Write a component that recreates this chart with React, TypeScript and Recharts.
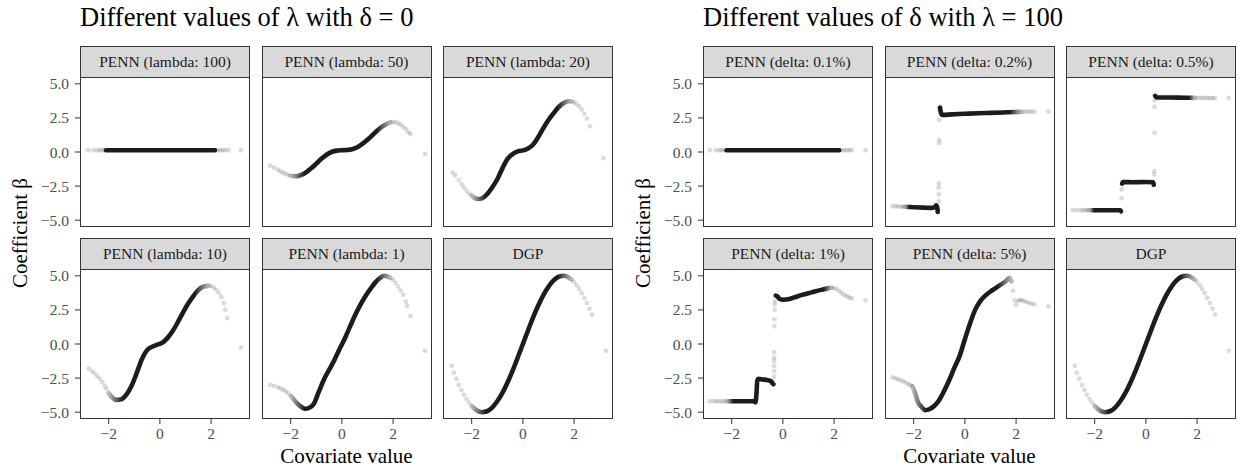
import { ComposedChart, Line, Scatter, XAxis, YAxis } from "recharts"

type Pt = [number, number]

// ---- left group: different lambda, delta = 0 ----
const lam100Line: Pt[] = [[-2.1, 0.13], [-1, 0.13], [0, 0.13], [1, 0.13], [2.15, 0.13]]
const lam100Dots: Pt[] = [[-2.8, 0.13], [-2.6, 0.13], [-2.45, 0.13], [-2.35, 0.13], [-2.25, 0.13], [-2.17, 0.13], [2.25, 0.13], [2.35, 0.13], [2.45, 0.13], [2.55, 0.13], [2.68, 0.13], [3.17, 0.13]]

const lam50Line: Pt[] = [[-2.0, -1.74], [-1.8, -1.78], [-1.6, -1.7], [-1.4, -1.5], [-1.2, -1.2], [-1.0, -0.85], [-0.8, -0.5], [-0.6, -0.2], [-0.4, 0.0], [-0.2, 0.1], [0, 0.13], [0.2, 0.15], [0.4, 0.2], [0.6, 0.35], [0.8, 0.6], [1.0, 0.9], [1.2, 1.25], [1.4, 1.6], [1.6, 1.9], [1.8, 2.1], [1.9, 2.17]]
const lam50Dots: Pt[] = [[-2.8, -1.0], [-2.65, -1.15], [-2.5, -1.3], [-2.4, -1.42], [-2.3, -1.52], [-2.2, -1.6], [-2.1, -1.68], [2.0, 2.2], [2.1, 2.18], [2.2, 2.1], [2.3, 2.0], [2.4, 1.85], [2.5, 1.68], [2.6, 1.45], [2.68, 1.32], [3.25, -0.15]]

const lam20Line: Pt[] = [[-2.0, -3.2], [-1.9, -3.35], [-1.75, -3.45], [-1.6, -3.4], [-1.4, -3.1], [-1.2, -2.6], [-1.0, -2.0], [-0.8, -1.2], [-0.6, -0.5], [-0.4, -0.15], [-0.2, 0.05], [0, 0.12], [0.2, 0.25], [0.4, 0.55], [0.6, 1.1], [0.8, 1.75], [1.0, 2.35], [1.2, 2.85], [1.4, 3.3], [1.6, 3.6], [1.8, 3.72], [1.9, 3.7]]
const lam20Dots: Pt[] = [[-2.75, -1.5], [-2.65, -1.7], [-2.5, -2.05], [-2.4, -2.35], [-2.3, -2.6], [-2.2, -2.85], [-2.1, -3.05], [2.0, 3.65], [2.1, 3.52], [2.2, 3.35], [2.3, 3.1], [2.4, 2.8], [2.5, 2.45], [2.62, 1.88], [3.15, -0.45]]

const lam10Line: Pt[] = [[-2.0, -3.6], [-1.9, -3.85], [-1.7, -4.1], [-1.5, -4.05], [-1.3, -3.7], [-1.1, -3.05], [-0.9, -2.1], [-0.7, -1.1], [-0.5, -0.45], [-0.3, -0.2], [-0.1, -0.05], [0.1, 0.1], [0.3, 0.45], [0.5, 0.95], [0.7, 1.6], [0.9, 2.3], [1.1, 2.95], [1.3, 3.5], [1.5, 3.95], [1.7, 4.2], [1.9, 4.28]]
const lam10Dots: Pt[] = [[-2.78, -1.8], [-2.65, -2.0], [-2.55, -2.15], [-2.45, -2.35], [-2.35, -2.55], [-2.25, -2.8], [-2.15, -3.1], [-2.08, -3.3], [2.0, 4.25], [2.1, 4.15], [2.2, 3.98], [2.3, 3.75], [2.4, 3.45], [2.5, 3.0], [2.55, 2.5], [2.63, 1.9], [3.17, -0.25]]

const lam1Line: Pt[] = [[-2.0, -3.8], [-1.8, -4.25], [-1.6, -4.6], [-1.45, -4.75], [-1.3, -4.7], [-1.1, -4.4], [-0.9, -3.5], [-0.7, -2.6], [-0.5, -1.9], [-0.3, -1.2], [-0.1, -0.4], [0.1, 0.35], [0.3, 1.2], [0.5, 2.05], [0.7, 2.8], [0.9, 3.45], [1.1, 4.0], [1.3, 4.5], [1.5, 4.85], [1.65, 5.0], [1.8, 4.95], [1.9, 4.85]]
const lam1Dots: Pt[] = [[-2.8, -3.0], [-2.65, -3.07], [-2.5, -3.18], [-2.4, -3.25], [-2.3, -3.35], [-2.2, -3.45], [-2.1, -3.6], [2.0, 4.7], [2.1, 4.48], [2.2, 4.2], [2.3, 3.92], [2.4, 3.6], [2.5, 3.1], [2.55, 2.8], [2.68, 2.05], [3.25, -0.5]]

const dgpLine: Pt[] = [[-2.0, -4.55], [-1.8, -4.87], [-1.6, -5.0], [-1.4, -4.93], [-1.2, -4.66], [-1.0, -4.2], [-0.8, -3.59], [-0.6, -2.82], [-0.4, -1.95], [-0.2, -0.99], [0, 0], [0.2, 0.99], [0.4, 1.95], [0.6, 2.82], [0.8, 3.59], [1.0, 4.2], [1.2, 4.66], [1.4, 4.93], [1.6, 5.0], [1.8, 4.87], [1.9, 4.73]]
const dgpDots: Pt[] = [[-2.78, -1.6], [-2.7, -2.1], [-2.6, -2.55], [-2.5, -3.0], [-2.4, -3.38], [-2.3, -3.73], [-2.2, -4.04], [-2.1, -4.3], [2.0, 4.55], [2.1, 4.3], [2.2, 4.04], [2.3, 3.73], [2.4, 3.38], [2.5, 3.0], [2.6, 2.58], [2.7, 2.15], [3.24, -0.5]]

// ---- right group: different delta, lambda = 100 ----
const d01Line: Pt[] = [[-2.2, 0.13], [-1, 0.13], [0, 0.13], [1, 0.13], [2.2, 0.13]]
const d01Dots: Pt[] = [[-2.85, 0.13], [-2.62, 0.13], [-2.48, 0.13], [-2.4, 0.13], [-2.3, 0.13], [2.3, 0.13], [2.4, 0.13], [2.5, 0.13], [2.6, 0.13], [2.69, 0.13], [3.23, 0.13]]

const d02Seg1: Pt[] = [[-2.35, -4.02], [-2.0, -4.05], [-1.6, -4.08], [-1.3, -4.1], [-1.18, -4.05], [-1.12, -3.9], [-1.08, -4.05], [-1.06, -4.4]]
const d02Seg2: Pt[] = [[-0.97, 3.25], [-0.93, 2.85], [-0.88, 2.72], [-0.5, 2.76], [0, 2.8], [0.5, 2.84], [1.0, 2.87], [1.5, 2.9], [2.0, 2.93], [2.2, 2.94]]
const d02Dots: Pt[] = [[-2.82, -3.98], [-2.7, -3.98], [-2.6, -4.0], [-2.5, -4.0], [-2.42, -4.02], [-1.02, -3.6], [-1.02, -3.1], [-1.02, -2.6], [-1.02, -2.3], [-1.0, 0.65], [-1.0, 0.9], [-1.0, 2.35], [-0.99, 3.1], [-0.99, 3.3], [2.3, 2.95], [2.4, 2.95], [2.5, 2.96], [2.6, 2.96], [2.72, 2.96], [3.26, 2.97]]

const d05Seg1: Pt[] = [[-2.2, -4.27], [-1.5, -4.27], [-1.0, -4.27], [-0.97, -4.35]]
const d05Seg2: Pt[] = [[-0.93, -2.32], [-0.9, -2.2], [-0.5, -2.22], [0, -2.2], [0.28, -2.22], [0.31, -2.4]]
const d05Seg3: Pt[] = [[0.36, 4.12], [0.42, 4.0], [1.0, 4.0], [1.5, 3.98], [1.9, 3.97]]
const d05Dots: Pt[] = [[-2.85, -4.27], [-2.7, -4.27], [-2.55, -4.27], [-2.45, -4.27], [-2.35, -4.27], [-2.28, -4.27], [-0.95, -3.4], [-0.95, -2.75], [0.33, -1.65], [0.33, -1.4], [0.34, 1.4], [0.34, 3.3], [0.35, 3.8], [2.0, 3.97], [2.1, 3.97], [2.2, 3.96], [2.3, 3.96], [2.4, 3.96], [2.5, 3.96], [2.6, 3.95], [2.69, 3.95], [3.23, 3.97]]

const d1Seg1: Pt[] = [[-2.2, -4.2], [-1.6, -4.2], [-1.15, -4.2], [-1.07, -4.28], [-1.03, -3.6], [-1.0, -2.7], [-0.95, -2.56], [-0.8, -2.6], [-0.6, -2.65], [-0.45, -2.75], [-0.4, -2.9], [-0.37, -2.95]]
const d1Seg2: Pt[] = [[-0.28, 3.55], [-0.22, 3.5], [-0.12, 3.3], [0, 3.25], [0.25, 3.3], [0.5, 3.45], [0.75, 3.6], [1.0, 3.72], [1.25, 3.85], [1.5, 3.97], [1.75, 4.08], [1.9, 4.12]]
const d1Dots: Pt[] = [[-2.85, -4.2], [-2.7, -4.2], [-2.6, -4.2], [-2.5, -4.2], [-2.4, -4.2], [-2.3, -4.2], [-0.34, -2.4], [-0.34, -2.0], [-0.34, -1.6], [-0.34, -1.25], [-0.34, -1.0], [-0.34, -0.6], [-0.33, 1.3], [-0.33, 1.8], [-0.32, 2.5], [-0.32, 2.9], [-0.31, 3.15], [2.0, 4.1], [2.1, 4.02], [2.2, 3.88], [2.3, 3.72], [2.4, 3.6], [2.5, 3.5], [2.6, 3.4], [2.69, 3.35], [3.23, 3.2]]

const d5Line: Pt[] = [[-2.05, -3.1], [-1.95, -3.6], [-1.85, -4.2], [-1.7, -4.6], [-1.55, -4.85], [-1.4, -4.8], [-1.2, -4.55], [-1.0, -4.1], [-0.8, -3.4], [-0.6, -2.6], [-0.4, -1.7], [-0.2, -0.85], [0, 0.35], [0.2, 1.5], [0.4, 2.5], [0.6, 3.15], [0.8, 3.55], [1.0, 3.85], [1.2, 4.1], [1.4, 4.35], [1.6, 4.6], [1.75, 4.85], [1.82, 4.6]]
const d5Dots: Pt[] = [[-2.82, -2.45], [-2.7, -2.52], [-2.6, -2.6], [-2.5, -2.68], [-2.4, -2.75], [-2.3, -2.85], [-2.2, -2.95], [-2.12, -3.02], [1.88, 3.9], [1.95, 3.2], [2.0, 2.85], [2.08, 3.15], [2.15, 3.25], [2.22, 3.2], [2.3, 3.15], [2.4, 3.08], [2.5, 3.02], [2.6, 2.95], [2.72, 2.9], [3.26, 2.75]]

const xTicks = [-2, 0, 2]
const yTicks = [-5, -2.5, 0, 2.5, 5]

// fade: which ends of the dense part thin out into the sparse tails
type Fade = "both" | "left" | "right" | "none"
type Facet = { title: string; lines: Pt[][]; fades: Fade[]; dots: Pt[] }

const lambdaFacets: Facet[] = [
  { title: "PENN (lambda: 100)", lines: [lam100Line], fades: ["none"], dots: lam100Dots },
  { title: "PENN (lambda: 50)", lines: [lam50Line], fades: ["both"], dots: lam50Dots },
  { title: "PENN (lambda: 20)", lines: [lam20Line], fades: ["both"], dots: lam20Dots },
  { title: "PENN (lambda: 10)", lines: [lam10Line], fades: ["both"], dots: lam10Dots },
  { title: "PENN (lambda: 1)", lines: [lam1Line], fades: ["both"], dots: lam1Dots },
  { title: "DGP", lines: [dgpLine], fades: ["both"], dots: dgpDots },
]

const deltaFacets: Facet[] = [
  { title: "PENN (delta: 0.1%)", lines: [d01Line], fades: ["none"], dots: d01Dots },
  { title: "PENN (delta: 0.2%)", lines: [d02Seg1, d02Seg2], fades: ["left", "right"], dots: d02Dots },
  { title: "PENN (delta: 0.5%)", lines: [d05Seg1, d05Seg2, d05Seg3], fades: ["left", "none", "right"], dots: d05Dots },
  { title: "PENN (delta: 1%)", lines: [d1Seg1, d1Seg2], fades: ["left", "right"], dots: d1Dots },
  { title: "PENN (delta: 5%)", lines: [d5Line], fades: ["both"], dots: d5Dots },
  { title: "DGP", lines: [dgpLine], fades: ["both"], dots: dgpDots },
]

const FONT = '"Liberation Serif", "Times New Roman", serif'
const INK = "#1c1c1c"
const PANEL_W = 170
const PANEL_H = 150
const STRIP_H = 31
const AXIS_W = 60
const AXIS_H = 40
const PAD = 12
const COL_STEP = 181.5
const ROW_TOP = [77, 269]
const GROUP_X = [0, 623]

const toXY = (pts: Pt[]) => pts.map(([x, y]) => ({ x, y }))
const minus = (s: string) => s.replace("-", "\u2212")

const Dot = (p: any) => <circle cx={p.cx} cy={p.cy} r={2.4} fill="#000" fillOpacity={0.14} />

const tickStyle = { fill: "#4d4d4d", fontSize: 15.5, fontFamily: "Liberation Serif" }

function FacetChart({ f, left, top, showX, showY }: { f: Facet; left: number; top: number; showX: boolean; showY: boolean }) {
  return (
    <>
      <div style={{ position: "absolute", left: left - AXIS_W, top: top - PAD }}>
        <ComposedChart width={AXIS_W + PANEL_W} height={PAD + PANEL_H + AXIS_H} margin={{ top: PAD, right: 0, bottom: 0, left: 0 }}>
          <XAxis
            type="number"
            dataKey="x"
            domain={[-3.12, 3.52]}
            allowDataOverflow
            ticks={xTicks}
            interval={0}
            height={AXIS_H}
            axisLine={false}
            tickSize={5}
            tickMargin={4}
            tick={showX ? tickStyle : false}
            tickLine={showX ? { stroke: "#333" } : false}
            tickFormatter={(v: number) => minus(String(v))}
          />
          <YAxis
            type="number"
            dataKey="y"
            domain={[-5.5, 5.5]}
            allowDataOverflow
            ticks={yTicks}
            interval={0}
            width={AXIS_W}
            axisLine={false}
            tickSize={5}
            tickMargin={6}
            tick={showY ? tickStyle : false}
            tickLine={showY ? { stroke: "#333" } : false}
            tickFormatter={(v: number) => minus(v.toFixed(1))}
          />
          <Scatter data={toXY(f.dots)} dataKey="y" shape={Dot} isAnimationActive={false} />
          {f.lines.map((seg, i) => (
            <Line
              key={i}
              data={toXY(seg)}
              dataKey="y"
              type="monotone"
              stroke={f.fades[i] === "none" ? INK : `url(#fade-${f.fades[i]})`}
              strokeWidth={4.6}
              strokeLinecap="round"
              strokeLinejoin="round"
              dot={false}
              activeDot={false}
              isAnimationActive={false}
            />
          ))}
        </ComposedChart>
      </div>
      <div
        style={{
          position: "absolute",
          left,
          top,
          width: PANEL_W,
          height: PANEL_H,
          boxSizing: "border-box",
          border: "1px solid #333",
          pointerEvents: "none",
        }}
      />
      <div
        style={{
          position: "absolute",
          left,
          top: top - STRIP_H,
          width: PANEL_W,
          height: STRIP_H + 1,
          boxSizing: "border-box",
          border: "1px solid #333",
          background: "#d9d9d9",
          display: "flex",
          alignItems: "center",
          justifyContent: "center",
          fontSize: 15.5,
          color: "#1a1a1a",
          whiteSpace: "nowrap",
        }}
      >
        {f.title}
      </div>
    </>
  )
}

function Group({ facets, gx, title }: { facets: Facet[]; gx: number; title: string }) {
  const panelLeft = 80 + gx
  return (
    <>
      <div style={{ position: "absolute", left: panelLeft, top: 2, fontSize: 26.5, lineHeight: "30px", whiteSpace: "nowrap" }}>{title}</div>
      {facets.map((f, i) => {
        const col = i % 3
        const row = Math.floor(i / 3)
        return (
          <FacetChart
            key={i}
            f={f}
            left={panelLeft + col * COL_STEP}
            top={ROW_TOP[row]}
            showX={row === 1}
            showY={col === 0}
          />
        )
      })}
      <div
        style={{
          position: "absolute",
          left: panelLeft,
          width: 2 * COL_STEP + PANEL_W,
          top: 444,
          textAlign: "center",
          fontSize: 21,
          lineHeight: "24px",
        }}
      >
        Covariate value
      </div>
      <div
        style={{
          position: "absolute",
          left: gx + 20,
          top: 233,
          transform: "translate(-50%, -50%) rotate(-90deg)",
          fontSize: 21,
          whiteSpace: "nowrap",
        }}
      >
        Coefficient β
      </div>
    </>
  )
}

const fadeStops: Record<string, [number, number][]> = {
  both: [[0, 0.3], [0.14, 1], [0.86, 1], [1, 0.3]],
  left: [[0, 0.3], [0.14, 1], [1, 1]],
  right: [[0, 1], [0.86, 1], [1, 0.3]],
}

export default function App() {
  return (
    <div style={{ position: "absolute", left: 0, top: 0, width: 1239, height: 468, background: "#fff", fontFamily: FONT, color: "#000" }}>
      <style>{`.recharts-cartesian-axis-tick-value, .recharts-cartesian-axis-tick-value tspan { font-family: ${FONT} !important; }`}</style>
      <svg width={0} height={0} style={{ position: "absolute" }}>
        <defs>
          {Object.entries(fadeStops).map(([k, stops]) => (
            <linearGradient key={k} id={`fade-${k}`} x1="0" y1="0" x2="1" y2="0">
              {stops.map(([o, a], j) => (
                <stop key={j} offset={o} stopColor={INK} stopOpacity={a} />
              ))}
            </linearGradient>
          ))}
        </defs>
      </svg>
      <Group facets={lambdaFacets} gx={GROUP_X[0]} title="Different values of λ with δ = 0" />
      <Group facets={deltaFacets} gx={GROUP_X[1]} title="Different values of δ with λ = 100" />
    </div>
  )
}
